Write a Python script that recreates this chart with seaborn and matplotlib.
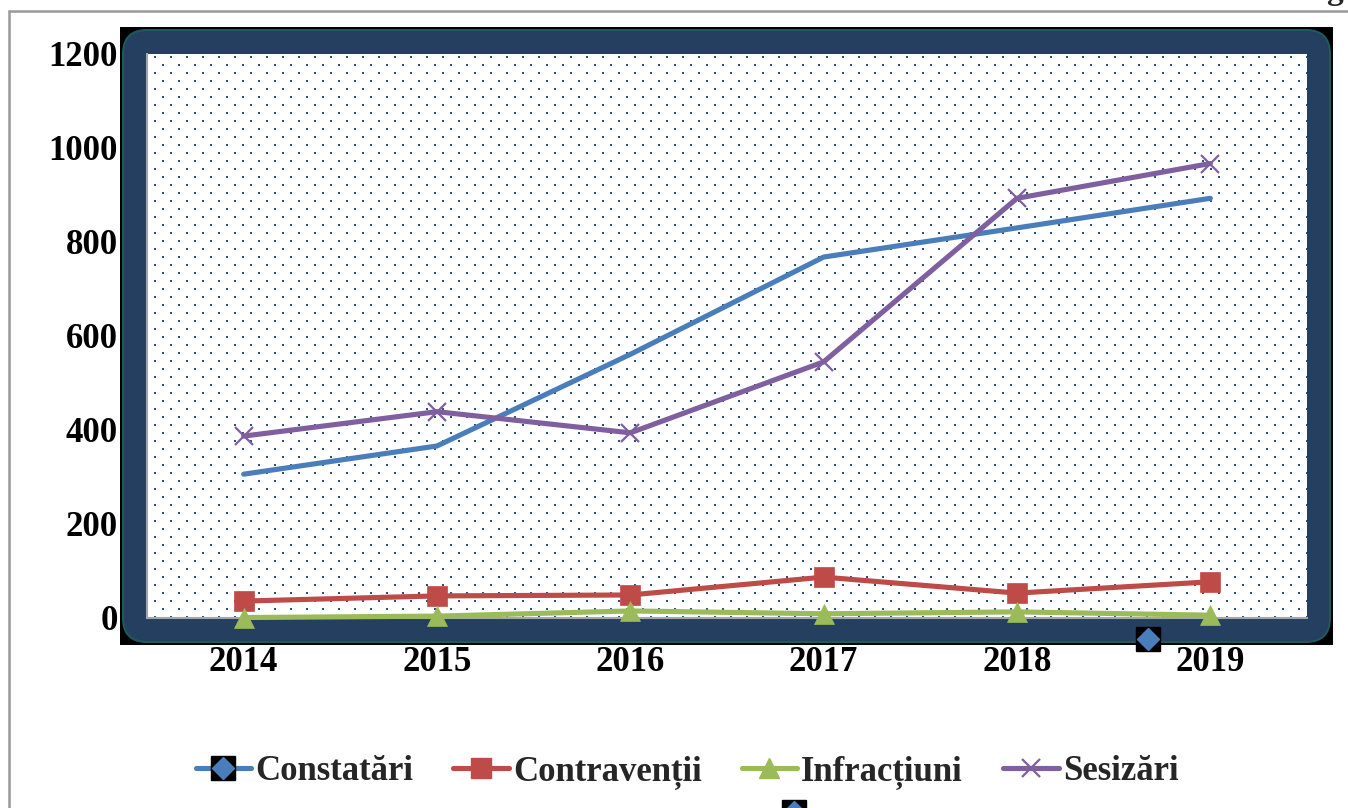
import numpy as np
import matplotlib
matplotlib.use("Agg")
import matplotlib.pyplot as plt
import seaborn as sns
from matplotlib.lines import Line2D
from matplotlib.patches import Rectangle, FancyBboxPatch
from matplotlib.legend_handler import HandlerTuple
from matplotlib.transforms import IdentityTransform

# date
years = ['2014', '2015', '2016', '2017', '2018', '2019']
constatari = [306, 366, 561, 768, 830, 893]
contraventii = [36, 47, 49, 87, 53, 77]
infractiuni = [1, 4, 15, 9, 13, 6]
sesizari = [387, 439, 394, 545, 893, 967]
y_ticks = [0, 200, 400, 600, 800, 1000, 1200]

BLUE = '#4a7ebb'
RED = '#be4b48'
GREEN = '#9bbb59'
PURPLE = '#7f5f9f'
NAVY = '#243f5f'
FS = 25

sns.set_theme(style="white")
plt.rcParams['font.family'] = ['Liberation Serif', 'DejaVu Serif']
plt.rcParams['font.weight'] = 'bold'

W, H = 1348, 808
fig = plt.figure(figsize=(W / 100, H / 100), dpi=100)


def fx(px):
    return px / W


def fy(py):
    return 1 - py / H


# chenarul gri al paginii
fig.add_artist(Line2D([fx(9), fx(9)], [fy(11), 0], color='#999999', lw=1.8))
fig.add_artist(Line2D([fx(9), 1], [fy(11), fy(11)], color='#999999', lw=1.8))
fig.text(fx(1326), fy(6), 'g', fontsize=24, ha='left', va='bottom')

# fundal negru + rama bleumarin rotunjita
fig.add_artist(Rectangle((120, H - 645), 1213, 618, transform=IdentityTransform(),
                         facecolor='black', edgecolor='none', zorder=0.1))
fig.add_artist(FancyBboxPatch((123, H - 642), 1207, 612,
                              boxstyle="round,pad=0,rounding_size=24",
                              transform=IdentityTransform(), facecolor=NAVY,
                              edgecolor='#1e5a5c', lw=1.5, zorder=0.2))

ax = fig.add_axes([fx(147), 190 / H, 1160 / W, 564 / H], zorder=1)
ax.set_facecolor('white')

# textura cu puncte a zonei de grafic
tex = np.ones((564, 1160, 4))
dot = np.array([0.17, 0.32, 0.51, 1.0])
for k, r in enumerate(range(2, 564, 8)):
    off = 7 if k % 2 == 0 else 15
    for c in range(off, 1160, 16):
        tex[r:r + 2, c:c + 2] = dot
ax.imshow(tex, extent=(-0.5, 5.5, 0, 1200), aspect='auto',
          interpolation='nearest', zorder=0)

x = np.arange(len(years))
sns.lineplot(x=x, y=constatari, ax=ax, color=BLUE, linewidth=3.7,
             solid_capstyle='round', clip_on=False, zorder=3)
sns.lineplot(x=x, y=contraventii, ax=ax, color=RED, linewidth=3.7, marker='s',
             markersize=14, markeredgecolor=RED, markeredgewidth=0.5,
             clip_on=False, zorder=3)
sns.lineplot(x=x, y=infractiuni, ax=ax, color=GREEN, linewidth=3.7, marker='^',
             markersize=14, markeredgecolor=GREEN, markeredgewidth=0.5,
             clip_on=False, zorder=3)
sns.lineplot(x=x, y=sesizari, ax=ax, color=PURPLE, linewidth=3.7, marker='x',
             markersize=13, markeredgecolor=PURPLE, markeredgewidth=1.6,
             clip_on=False, zorder=3)

ax.set_xlim(-0.5, 5.5)
ax.set_ylim(0, 1200)
ax.set_xticks(x)
ax.set_xticklabels(years)
ax.set_yticks(y_ticks)
ax.set_xlabel('')
ax.set_ylabel('')
ax.tick_params(axis='both', length=0, labelsize=FS, colors='black')
ax.tick_params(axis='y', pad=21)
ax.tick_params(axis='x', pad=20)
for lab in ax.get_xticklabels() + ax.get_yticklabels():
    lab.set_fontweight('bold')
for side in ['top', 'right']:
    ax.spines[side].set_visible(False)
for side in ['left', 'bottom']:
    ax.spines[side].set_color('#a6a6a6')
    ax.spines[side].set_linewidth(1.5)

# markerele "rătăcite" ale seriei Constatări
for px, py in [(1148, 639), (794, 812)]:
    fig.add_artist(Line2D([fx(px)], [fy(py)], marker='s', ms=17, color='black',
                          ls='none', zorder=4))
    fig.add_artist(Line2D([fx(px)], [fy(py)], marker='D', ms=11, color=BLUE,
                          ls='none', zorder=5))

# legenda
h1 = (Line2D([], [], color=BLUE, lw=3.7, solid_capstyle='round'),
      Line2D([], [], ls='none', marker='s', ms=17, color='black'),
      Line2D([], [], ls='none', marker='D', ms=11, color=BLUE))
h2 = Line2D([], [], color=RED, lw=3.7, marker='s', ms=14, solid_capstyle='round')
h3 = Line2D([], [], color=GREEN, lw=3.7, marker='^', ms=14, solid_capstyle='round')
h4 = Line2D([], [], color=PURPLE, lw=3.7, marker='x', ms=13, mew=1.6,
            solid_capstyle='round')
fig.legend([h1, h2, h3, h4], ['Constatări', 'Contravenții', 'Infracțiuni', 'Sesizări'],
           handler_map={tuple: HandlerTuple(ndivide=1)},
           loc='center', bbox_to_anchor=(fx(687), fy(772)), ncol=4, frameon=False,
           prop={'size': FS, 'weight': 'bold'}, handlelength=1.6,
           handletextpad=0.12, columnspacing=1.15)

fig.savefig('out.png', dpi=100)
